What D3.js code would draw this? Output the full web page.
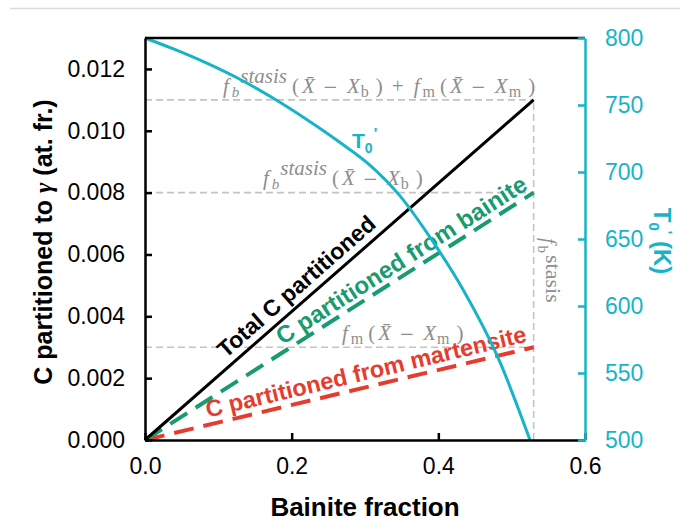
<!DOCTYPE html>
<html><head><meta charset="utf-8">
<script src="https://cdn.jsdelivr.net/npm/d3@7"></script>
<style>body{margin:0;background:#fff} svg{display:block}</style>
</head><body>
<svg id="chart" width="680" height="524"></svg>
<script>
// Axis ticks
const xTicks = [0, 0.2, 0.4, 0.6];
const yTicks = [0, 0.002, 0.004, 0.006, 0.008, 0.010, 0.012];
const tTicks = [500, 550, 600, 650, 700, 750, 800];

// Carbon partitioned to austenite vs. bainite fraction (linear up to f_b^stasis)
const fraction = [0, 0.53];
const totalC = [0, 0.011];
const bainiteC = [0, 0.008];
const martensiteC = [0, 0.003];
const fbStasis = 0.53;

// T0' temperature vs. bainite fraction
const t0Fraction = [0, 0.038, 0.085, 0.13, 0.175, 0.221, 0.266, 0.307, 0.348, 0.389, 0.434, 0.481, 0.525];
const t0Temp = [800, 792, 781, 769, 755, 739, 722, 705, 682, 651, 612, 562, 500];

const CYAN = "#17b4c8", GREEN = "#189b70", RED = "#e43d30", BLACK = "#000";
const GRAY_TXT = "#8e8e8e", GRAY_LN = "#c4c4c4";
const SANS = "'Liberation Sans', Arial, sans-serif";
const SERIF = "'Liberation Serif', 'Times New Roman', serif";
const WIDE = "'DejaVu Serif', serif";

const svg = d3.select("#chart");
const L = 145, R = 585, T = 38, B = 440;

const x = d3.scaleLinear().domain([0, 0.6]).range([L, R]);
const y = d3.scaleLinear().domain([0, 0.013]).range([B, T]);
const yT = d3.scaleLinear().domain([500, 800]).range([B, T]);

// thin rule across the top of the page
svg.append("line").attr("x1", 10).attr("x2", 680).attr("y1", 8.5).attr("y2", 8.5)
  .attr("stroke", "#dcdcdc").attr("stroke-width", 1.5);

// guide lines at f_b^stasis
const guides = svg.append("g").attr("stroke", GRAY_LN).attr("stroke-width", 1.6)
  .attr("stroke-dasharray", "7,4").attr("fill", "none");
[totalC[1], bainiteC[1], martensiteC[1]].forEach(v => {
  guides.append("line").attr("x1", x(0)).attr("x2", x(fbStasis)).attr("y1", y(v)).attr("y2", y(v));
});
guides.append("line").attr("x1", x(fbStasis)).attr("x2", x(fbStasis)).attr("y1", y(0)).attr("y2", y(totalC[1]));

// math-style labels: each piece has its own size, vertical shift and leading gap
function mathLabel(g, px, py, size, segs) {
  const t = g.append("text").attr("x", px).attr("y", py)
    .attr("font-family", SERIF).attr("font-size", size).attr("fill", GRAY_TXT);
  let shift = 0;
  segs.forEach(s => {
    const target = s.shift || 0;
    const sp = t.append("tspan").text(s.t).attr("font-size", s.size || size).attr("dy", target - shift);
    if (s.it) sp.attr("font-style", "italic");
    if (s.font) sp.attr("font-family", s.font);
    if (s.pad) sp.attr("dx", s.pad);
    shift = target;
  });
  return t;
}
const fbSegs = [
  {t: "f", it: 1},
  {t: "b", it: 1, size: 15, shift: 3.5, pad: 3},
  {t: "stasis", it: 1, shift: -10, pad: 1}
];
const diff = sub => [
  {t: "(", pad: 5},
  {t: "X\u0304", it: 1, pad: 3},
  {t: "\u2212", font: WIDE, size: 18, pad: 8},
  {t: "X", it: 1, pad: 9},
  {t: sub, size: 16, shift: 4, pad: 1},
  {t: ")", pad: 7}
];
const fmSegs = [{t: "f", it: 1}, {t: "m", size: 16, shift: 4, pad: 3}];

const labels = svg.append("g");
mathLabel(labels, 223, 93, 21, [
  ...fbSegs, ...diff("b"),
  {t: "+", pad: 9},
  {t: "f", it: 1, pad: 10}, fmSegs[1], ...diff("m")
]);
mathLabel(labels, 263, 185, 21, [...fbSegs, ...diff("b")]);
mathLabel(labels, 342, 340, 21, [...fmSegs, ...diff("m")]);
const vg = labels.append("g").attr("transform", `translate(${x(fbStasis) + 8},238) rotate(90)`);
mathLabel(vg, 0, 0, 20, [
  {t: "f", it: 1},
  {t: "b", size: 15, shift: 4, pad: 2},
  {t: "stasis", size: 22, shift: -4, pad: 2}
]);

// series lines
const line = d3.line().x(d => x(d[0])).y(d => y(d[1]));
const zip = (a, b) => a.map((v, i) => [v, b[i]]);
svg.append("path").datum(zip(fraction, martensiteC)).attr("d", line)
  .attr("stroke", RED).attr("stroke-width", 4).attr("fill", "none").attr("stroke-dasharray", "20,10");
svg.append("path").datum(zip(fraction, bainiteC)).attr("d", line)
  .attr("stroke", GREEN).attr("stroke-width", 4).attr("fill", "none").attr("stroke-dasharray", "20,10");
svg.append("path").datum(zip(fraction, totalC)).attr("d", line)
  .attr("stroke", BLACK).attr("stroke-width", 3).attr("fill", "none");

// labels running along each line
function lineLabel(vals, at, text, color, dy, size) {
  const ang = Math.atan2(y(vals[1]) - y(vals[0]), x(fraction[1]) - x(fraction[0])) * 180 / Math.PI;
  const v = vals[0] + (vals[1] - vals[0]) * (at - fraction[0]) / (fraction[1] - fraction[0]);
  svg.append("text").attr("transform", `translate(${x(at)},${y(v)}) rotate(${ang})`)
    .attr("dy", dy).attr("text-anchor", "middle").attr("font-family", SANS)
    .attr("font-weight", "bold").attr("font-size", size).attr("fill", color).text(text);
}
lineLabel(totalC, 0.2205, "Total C partitioned", BLACK, -8, 23);
lineLabel(bainiteC, 0.36, "C partitioned from bainite", GREEN, -6, 24);
lineLabel(martensiteC, 0.306, "C partitioned from martensite", RED, -7, 23.5);

// T0' curve on the right axis
const tLine = d3.line().x((d, i) => x(t0Fraction[i])).y(d => yT(d)).curve(d3.curveMonotoneX);
svg.append("path").datum(t0Temp).attr("d", tLine)
  .attr("stroke", CYAN).attr("stroke-width", 3).attr("fill", "none");

const t0 = svg.append("text").attr("x", 352).attr("y", 148).attr("font-family", SANS)
  .attr("font-weight", "bold").attr("font-size", 21).attr("fill", CYAN);
t0.append("tspan").text("T");
t0.append("tspan").text("0").attr("font-size", 14).attr("dy", 5);
t0.append("tspan").text("'").attr("font-size", 15).attr("dy", -15).attr("dx", 1);

// axes
function styleAxis(g, color) {
  g.selectAll("path").attr("stroke", color).attr("stroke-width", 2.5);
  g.selectAll("line").attr("stroke", color).attr("stroke-width", 2.5);
  g.selectAll("text").attr("fill", color).attr("font-family", SANS).attr("font-size", 23);
}
svg.append("line").attr("x1", L).attr("x2", R).attr("y1", T).attr("y2", T)
  .attr("stroke", BLACK).attr("stroke-width", 2.5);
const gx = svg.append("g").attr("transform", `translate(0,${B})`)
  .call(d3.axisBottom(x).tickValues(xTicks).tickFormat(d3.format(".1f")).tickSizeInner(-7).tickSizeOuter(0).tickPadding(18));
styleAxis(gx, BLACK);
const gy = svg.append("g").attr("transform", `translate(${L},0)`)
  .call(d3.axisLeft(y).tickValues(yTicks).tickFormat(d3.format(".3f")).tickSizeInner(-7).tickSizeOuter(0).tickPadding(20));
styleAxis(gy, BLACK);
const gt = svg.append("g").attr("transform", `translate(${R},0)`)
  .call(d3.axisRight(yT).tickValues(tTicks).tickFormat(d3.format("d")).tickSizeInner(-7).tickSizeOuter(0).tickPadding(20));
styleAxis(gt, CYAN);

// axis titles
svg.append("text").attr("x", x(0.3)).attr("y", 516).attr("text-anchor", "middle")
  .attr("font-family", SANS).attr("font-weight", "bold").attr("font-size", 26).text("Bainite fraction");

const yt = svg.append("text").attr("transform", "translate(52,242) rotate(-90)").attr("text-anchor", "middle")
  .attr("font-family", SANS).attr("font-weight", "bold").attr("font-size", 25).style("white-space", "pre");
yt.append("tspan").text("C partitioned to ");
yt.append("tspan").text("\u03b3").attr("font-family", SERIF).attr("font-style", "italic");
yt.append("tspan").text(" (at. fr.)");

const rt = svg.append("text").attr("transform", "translate(654,241) rotate(90)").attr("text-anchor", "middle")
  .attr("font-family", SANS).attr("font-weight", "bold").attr("font-size", 24).attr("fill", CYAN)
  .style("white-space", "pre");
rt.append("tspan").text("T");
rt.append("tspan").text("0").attr("font-size", 15).attr("dy", 5);
rt.append("tspan").text("'").attr("font-size", 15).attr("dy", -13);
rt.append("tspan").text(" (K)").attr("dy", 8);
</script>
</body></html>
